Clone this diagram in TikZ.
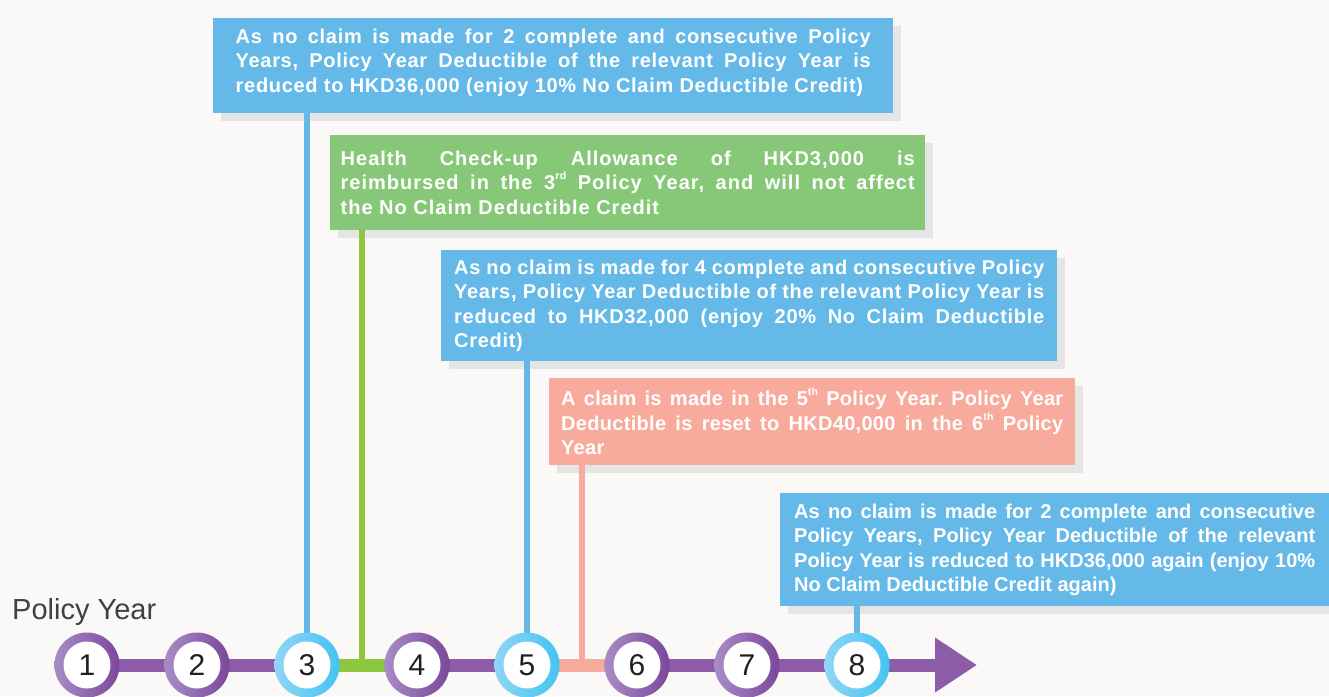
\documentclass[tikz,border=0pt]{standalone}
\usepackage{fontspec}
\setmainfont{Liberation Sans}
\usepackage{xcolor}
\usetikzlibrary{positioning,arrows.meta,shapes,calc,shadows}
\frenchspacing

\definecolor{bgcol}{HTML}{FAF9F7}
\definecolor{boxblue}{HTML}{64B9E8}
\definecolor{boxgreen}{HTML}{87C878}
\definecolor{boxsalmon}{HTML}{F8AA9C}
\definecolor{shadowgray}{HTML}{E5E5E5}
\definecolor{linkgreen}{HTML}{8DC63F}
\definecolor{trackpurple}{HTML}{8C5CA8}
\definecolor{ringlightp}{HTML}{A88CC6}
\definecolor{ringdarkp}{HTML}{7B479B}
\definecolor{ringlightb}{HTML}{8FD6F5}
\definecolor{ringdarkb}{HTML}{43C4F1}
\definecolor{textgray}{HTML}{404040}
\definecolor{numcol}{HTML}{231F20}

\newcommand{\ordsup}[1]{\raisebox{0.5em}{\fontsize{10.5}{10.5}\selectfont #1}}

\tikzset{
    infobox/.style={anchor=north west, fill=#1, text=white, align=justify,
        font=\bfseries\fontsize{20}{24.5}\selectfont, inner ysep=4pt,
        drop shadow={shadow xshift=8pt, shadow yshift=-8pt, fill=shadowgray, opacity=1}},
    yearring/.style={circle, minimum size=65pt, inner sep=0pt, text=numcol,
        font=\fontsize{30}{30}\selectfont,
        path picture={\fill[white] (path picture bounding box.center) circle (23.5pt);}},
    pring/.style={yearring, left color=ringlightp, right color=ringdarkp},
    bring/.style={yearring, left color=ringlightb, right color=ringdarkb},
    track/.style={line width=13pt, draw=trackpurple},
    link/.style={line width=6.5pt, draw=#1}
}

\begin{document}
\begin{tikzpicture}[x=1pt, y=-1pt]
    % Background and page size
    \fill[bgcol] (0,0) rectangle (1329,696);
    \useasboundingbox (0,0) rectangle (1329,696);

    \node[anchor=base west, inner sep=0pt, text=textgray, font=\fontsize{29}{29}\selectfont] (ptitle) at (12,619) {Policy Year};

    % Year positions
    \foreach \i in {1,...,8}
        \coordinate (c\i) at ({87+110*(\i-1)},665);
    \coordinate (m34) at ($(c3)!.5!(c4)$);
    \coordinate (m56) at ($(c5)!.5!(c6)$);
    \coordinate (tip) at (977,665);

    % Track between the years
    \foreach \a/\b in {1/2,2/3,4/5,6/7,7/8}
        \draw[track] (c\a) -- (c\b);
    \draw[track, draw=linkgreen] (c3) -- (c4);
    \draw[track, draw=boxsalmon] (c5) -- (c6);
    \draw[track, -{Triangle[length=42pt,width=52pt]}] (c8) -- (tip);

    % Boxes
    \node[infobox=boxblue, text width=635pt, inner xsep=22.5pt, minimum height=95pt] (b1) at (213,18)
        {\addfontfeature{LetterSpace=3.5}\fontsize{20}{26}\selectfont As no claim is made for 2 complete and consecutive Policy\linebreak Years, Policy Year Deductible of the relevant Policy Year is\linebreak reduced to HKD36,000 (enjoy 10\% No Claim Deductible Credit)\vspace{6pt}};
    \node[infobox=boxgreen, text width=574pt, inner xsep=10.5pt, minimum height=95pt] (b2) at (330,135)
        {\addfontfeature{LetterSpace=5}\fontsize{20}{25.5}\selectfont Health Check-up Allowance of HKD3,000 is\linebreak reimbursed in the 3\ordsup{rd} Policy Year, and will not affect\linebreak the No Claim Deductible Credit};
    \node[infobox=boxblue, text width=590pt, inner xsep=13pt, minimum height=111pt] (b3) at (441,250)
        {\addfontfeature{LetterSpace=3.5}As no claim is made for 4 complete and consecutive Policy\linebreak Years, Policy Year Deductible of the relevant Policy Year is\linebreak reduced to HKD32,000 (enjoy 20\% No Claim Deductible\linebreak Credit)};
    \node[infobox=boxsalmon, text width=502pt, inner xsep=12pt, minimum height=87pt] (b4) at (549,378)
        {\addfontfeature{LetterSpace=1.5}A claim is made in the 5\ordsup{th} Policy Year. Policy Year\linebreak Deductible is reset to HKD40,000 in the 6\ordsup{th} Policy\linebreak Year};
    \node[infobox=boxblue, text width=521pt, inner xsep=14pt, minimum height=113pt] (b5) at (780,493)
        {As no claim is made for 2 complete and consecutive\linebreak Policy Years, Policy Year Deductible of the relevant\linebreak Policy Year is reduced to HKD36,000 again (enjoy 10\%\linebreak No Claim Deductible Credit again)};

    % Connectors from the boxes down to the years
    \draw[link=boxblue] (b1.south -| c3) -- (c3);
    \draw[link=linkgreen] (b2.south -| m34) -- (m34);
    \draw[link=boxblue] (b3.south -| c5) -- (c5);
    \draw[link=boxsalmon] (b4.south -| m56) -- (m56);
    \draw[link=boxblue] (b5.south -| c8) -- (c8);

    % Year circles
    \foreach \i/\ring in {1/pring,2/pring,3/bring,4/pring,5/bring,6/pring,7/pring,8/bring}
        \node[\ring] (y\i) at (c\i) {\i};
\end{tikzpicture}
\end{document}
